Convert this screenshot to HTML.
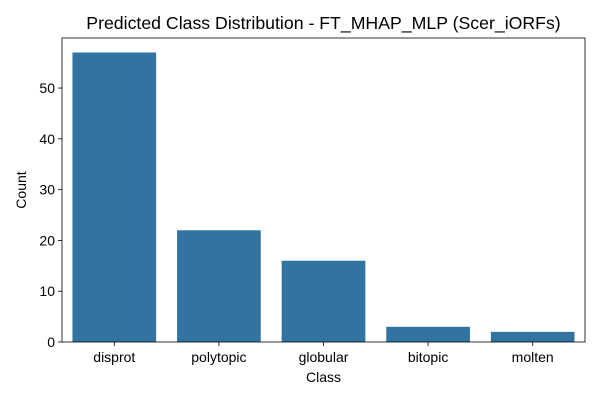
<!DOCTYPE html>
<html><head><meta charset="utf-8"><style>
body{margin:0;background:#fff;}
svg{display:block;font-family:"Liberation Sans",sans-serif;}
</style></head><body>
<svg id="chart" width="600" height="400"></svg>
<script>
const categories=["disprot","polytopic","globular","bitopic","molten"];
const counts=[57,22,16,3,2];
const yTicks=[0,10,20,30,40,50];
const L=62,R=585,T=38,B=342,yMax=59.85;
const NS="http://www.w3.org/2000/svg";
const svg=document.getElementById('chart');
function y(v){return B-(v/yMax)*(B-T);}
const band=(R-L)/categories.length;
function x(i){return L+band*i+band*0.1;}
function mk(tag,attrs,text){const e=document.createElementNS(NS,tag);for(const k in attrs)e.setAttribute(k,attrs[k]);if(text!==undefined)e.textContent=text;svg.appendChild(e);return e;}
categories.forEach((c,i)=>{
  const r=mk('rect',{x:x(i),y:y(counts[i]),width:band*0.8,height:B-y(counts[i]),fill:'#3274a1'});
  
  
  const cx=L+band*(i+0.5);
  mk('line',{x1:cx,x2:cx,y1:B,y2:B+4,stroke:'#000','stroke-width':0.8});
  const t=mk('text',{x:cx,y:B+20,'text-anchor':'middle','font-size':14},c);
  
  
});
yTicks.forEach(v=>{
  mk('line',{x1:L-4,x2:L,y1:y(v),y2:y(v),stroke:'#000','stroke-width':0.8});
  const t=mk('text',{x:L-7,y:y(v)+5,'text-anchor':'end','font-size':14},v);
  
  
});
const f=mk('rect',{x:L,y:T,width:R-L,height:B-T,fill:'none',stroke:'#000','stroke-width':0.8});


const tt=mk('text',{x:(L+R)/2,y:29,'text-anchor':'middle','font-size':17.7},'Predicted Class Distribution - FT_MHAP_MLP (Scer_iORFs)');


const xl=mk('text',{x:(L+R)/2,y:382,'text-anchor':'middle','font-size':14},'Class');


const yl=mk('text',{x:26,y:(T+B)/2,'text-anchor':'middle','font-size':14,transform:'rotate(-90 26 '+((T+B)/2)+')'},'Count');


</script>
</body></html>
